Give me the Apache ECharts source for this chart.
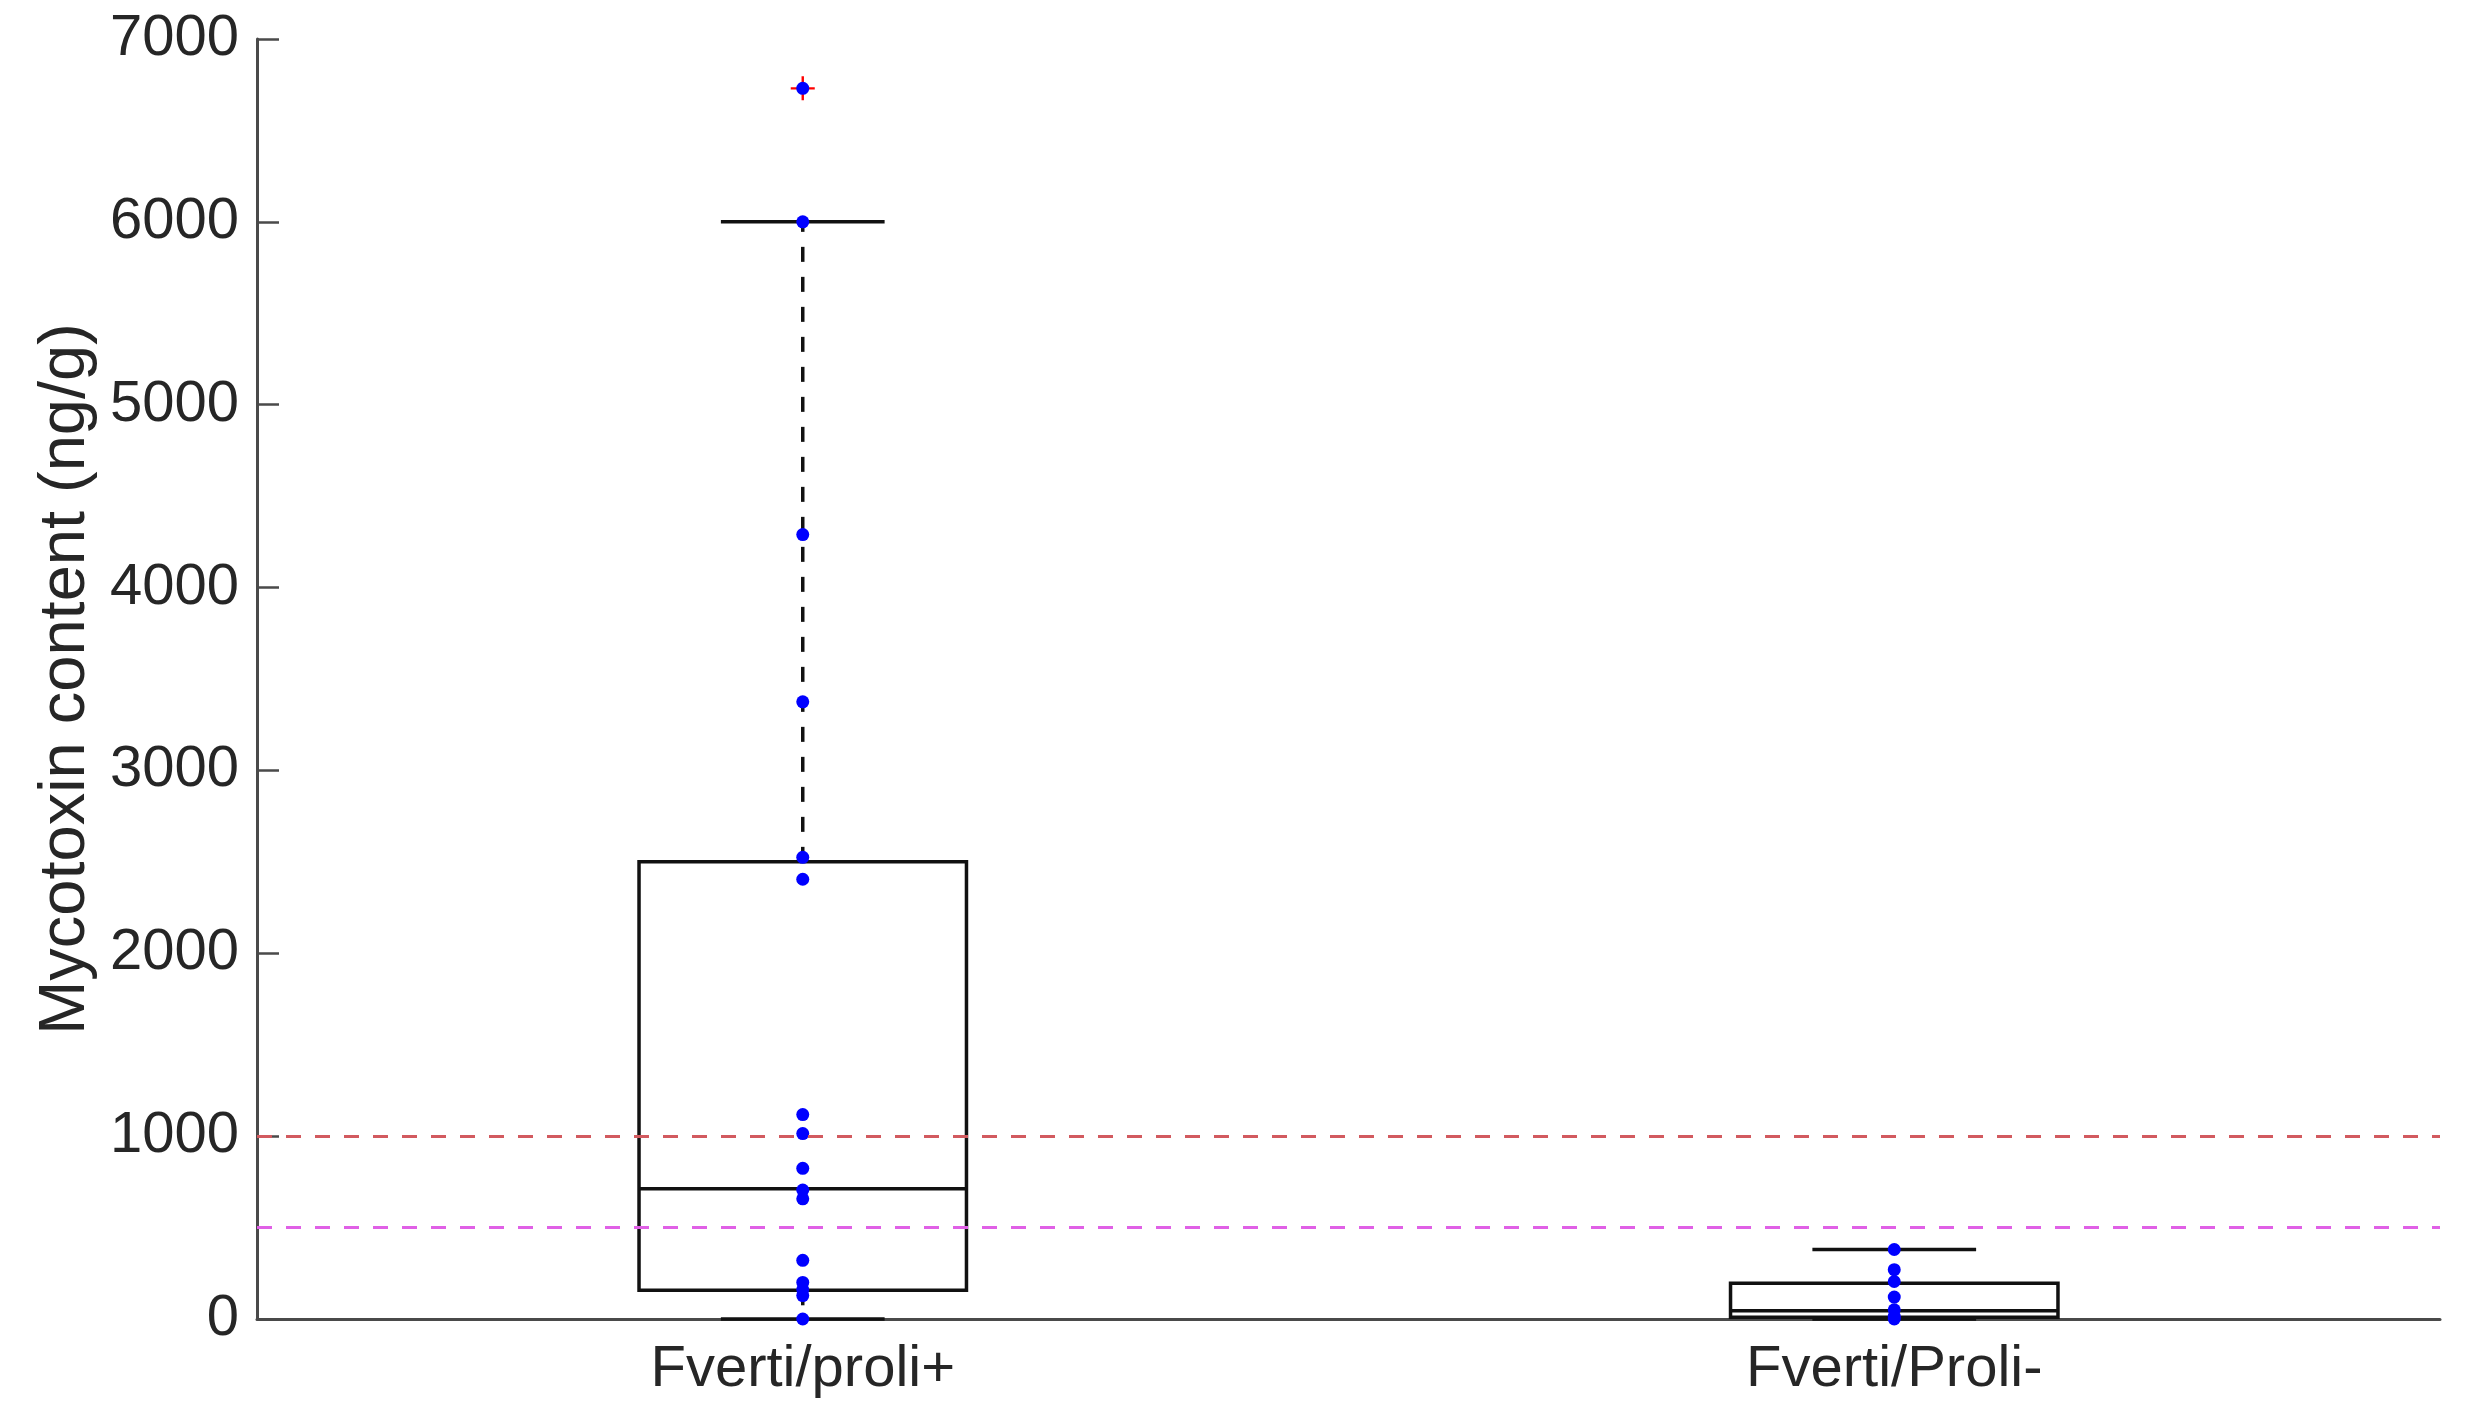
<!DOCTYPE html>
<html>
<head>
<meta charset="utf-8">
<title>Mycotoxin content</title>
<script src="https://cdn.jsdelivr.net/npm/echarts@6/dist/echarts.min.js"></script>
<style>
  html, body { margin: 0; padding: 0; background: #fff; }
  #chart { width: 2469px; height: 1416px; }
</style>
</head>
<body>
<div id="chart"></div>
<script>
// groups on the x axis
const categories = ['Fverti/proli+', 'Fverti/Proli-'];

// box statistics per group (ng/g)
const whiskerLow = [0, 0];
const q1 = [157, 10];
const median = [712, 45];
const q3 = [2500, 195];
const whiskerHigh = [6000, 380];

// individual samples per group
const samplesProliPlus = [6730, 6000, 4290, 3375, 2525, 2405, 1118, 1014, 824, 705, 657, 321, 200, 161, 128, 0];
const samplesProliMinus = [380, 270, 205, 120, 50, 15, 0];

// outliers flagged by the boxplot: [group index, value]
const outliers = [[0, 6730]];

// regulatory limits
const limitHigh = 1000;
const limitLow = 500;

// y axis ticks
const yMin = 0;
const yMax = 7000;
const yStep = 1000;

const FONT = "'Liberation Sans', Arial, Helvetica, sans-serif";
const INK = '#262626';

const boxData = categories.map((c, i) => [i, whiskerLow[i], q1[i], median[i], q3[i], whiskerHigh[i]]);

const points = [];
samplesProliPlus.forEach(v => points.push([0, v]));
samplesProliMinus.forEach(v => points.push([1, v]));

function renderBox(params, api) {
  const idx = api.value(0);
  const band = api.size([1, 0])[0];
  const boxHalf = band * 0.15;
  const capHalf = band * 0.075;
  const low = api.coord([idx, api.value(1)]);
  const p1 = api.coord([idx, api.value(2)]);
  const med = api.coord([idx, api.value(3)]);
  const p3 = api.coord([idx, api.value(4)]);
  const high = api.coord([idx, api.value(5)]);
  const cx = low[0];
  const solid = { stroke: '#111', lineWidth: 3.5, fill: null };
  const dashed = { stroke: '#111', lineWidth: 3.5, lineDash: [15, 15], fill: null };
  return {
    type: 'group',
    children: [
      { type: 'line', shape: { x1: cx, y1: p3[1], x2: cx, y2: high[1] }, style: dashed },
      { type: 'line', shape: { x1: cx, y1: p1[1], x2: cx, y2: low[1] }, style: dashed },
      { type: 'line', shape: { x1: cx - capHalf, y1: high[1], x2: cx + capHalf, y2: high[1] }, style: solid },
      { type: 'line', shape: { x1: cx - capHalf, y1: low[1], x2: cx + capHalf, y2: low[1] }, style: solid },
      { type: 'rect', shape: { x: cx - boxHalf, y: p3[1], width: boxHalf * 2, height: p1[1] - p3[1] }, style: solid },
      { type: 'line', shape: { x1: cx - boxHalf, y1: med[1], x2: cx + boxHalf, y2: med[1] }, style: solid }
    ]
  };
}

const chart = echarts.init(document.getElementById('chart'));

chart.setOption({
  animation: false,
  backgroundColor: '#fff',
  grid: { left: 257, right: 29, top: 39, bottom: 97 },
  xAxis: {
    type: 'category',
    data: categories,
    boundaryGap: true,
    axisLine: { show: true, lineStyle: { color: '#4a4a4a', width: 3 } },
    axisTick: { show: false },
    axisLabel: { fontFamily: FONT, fontSize: 58, color: INK, margin: 22 },
    splitLine: { show: false }
  },
  yAxis: {
    type: 'value',
    min: yMin,
    max: yMax,
    interval: yStep,
    name: 'Mycotoxin content (ng/g)',
    nameLocation: 'middle',
    nameGap: 152,
    nameTextStyle: { fontFamily: FONT, fontSize: 65, color: INK },
    axisLine: { show: true, lineStyle: { color: '#4a4a4a', width: 3 } },
    axisTick: { show: true, inside: true, length: 22, lineStyle: { color: '#4a4a4a', width: 2.5 } },
    axisLabel: { fontFamily: FONT, fontSize: 58, color: INK, margin: 18, formatter: v => String(v) },
    splitLine: { show: false }
  },
  series: [
    {
      type: 'custom',
      renderItem: renderBox,
      data: boxData,
      encode: { x: 0, y: [1, 2, 3, 4, 5] },
      z: 2,
      markLine: {
        silent: true,
        symbol: 'none',
        label: { show: false },
        data: [
          { yAxis: limitHigh, lineStyle: { color: '#d25a5f', width: 3, type: [15, 14] } },
          { yAxis: limitLow, lineStyle: { color: '#e060e6', width: 3, type: [15, 14] } }
        ]
      }
    },
    {
      type: 'scatter',
      data: outliers,
      symbol: 'path://M9,0H11V9H20V11H11V20H9V11H0V9H9Z',
      symbolSize: 24,
      itemStyle: { color: '#ff0000', opacity: 1 },
      z: 3
    },
    {
      type: 'scatter',
      data: points,
      symbol: 'circle',
      symbolSize: 13,
      itemStyle: { color: '#0000ff', opacity: 1 },
      z: 4
    }
  ]
});
</script>
</body>
</html>
